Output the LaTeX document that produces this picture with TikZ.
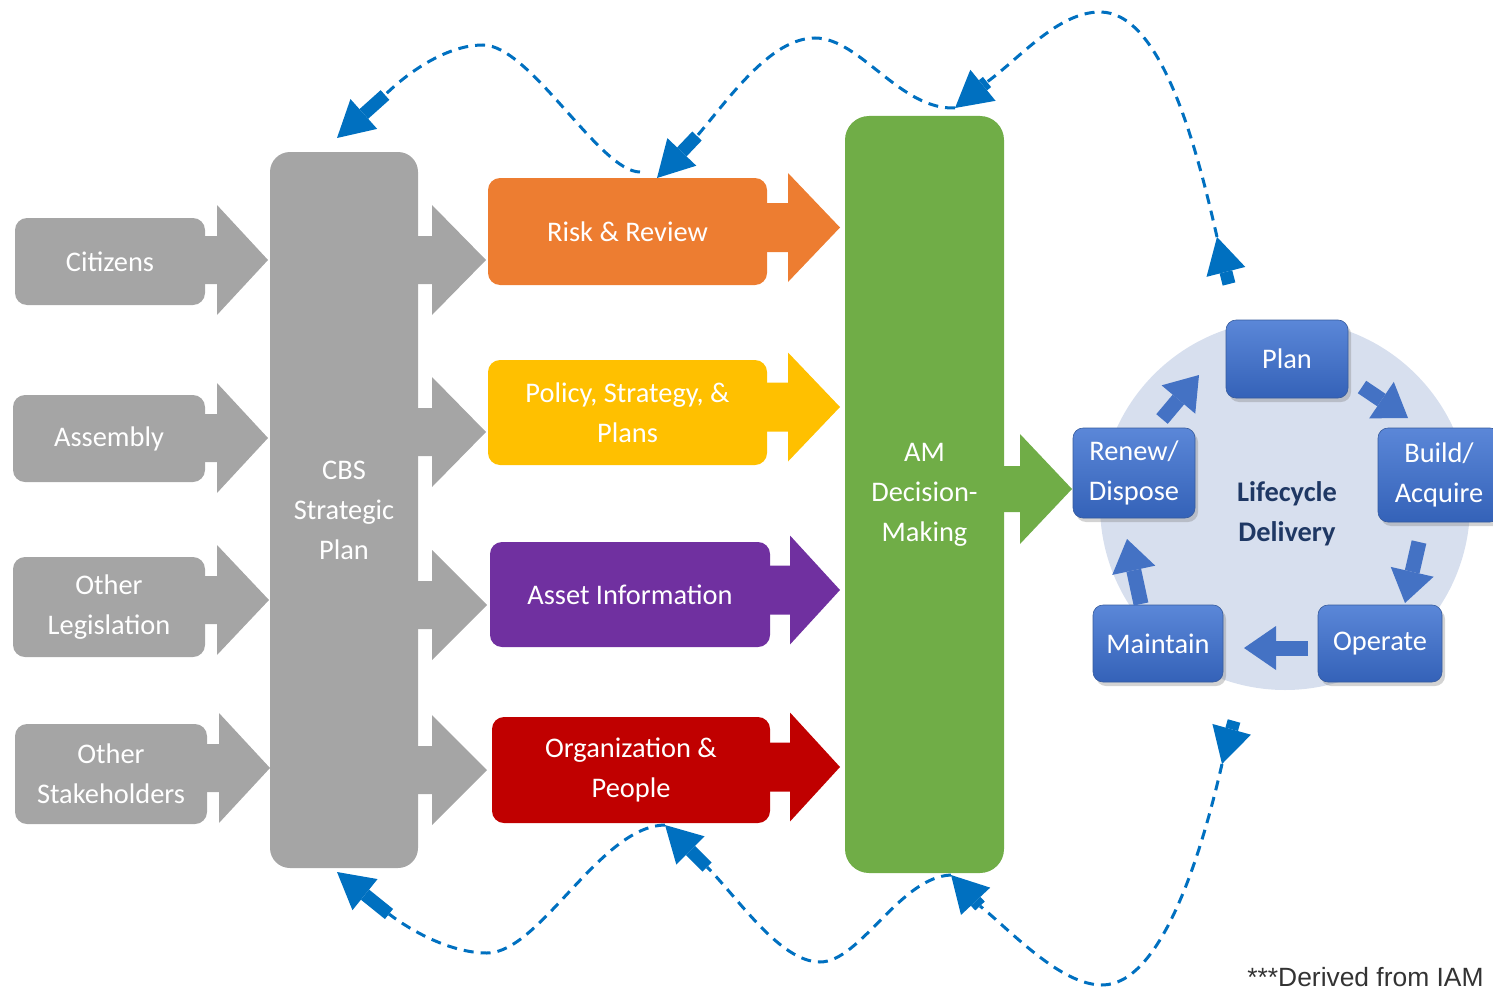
\documentclass[tikz,border=0pt]{standalone}
\usepackage{fontspec}
\setmainfont{Carlito}
\newfontfamily\arialfont{Liberation Sans}
\usetikzlibrary{arrows.meta,shadows}

\definecolor{cgray}{HTML}{A5A5A5}
\definecolor{corange}{HTML}{ED7D31}
\definecolor{cyellow}{HTML}{FFC000}
\definecolor{cpurple}{HTML}{7030A0}
\definecolor{cred}{HTML}{C00000}
\definecolor{cgreen}{HTML}{70AD47}
\definecolor{ccirc}{HTML}{D7DFEE}
\definecolor{cbluetop}{HTML}{5B87D8}
\definecolor{cbluebot}{HTML}{3462B8}
\definecolor{cblue}{HTML}{4472C4}
\definecolor{cdash}{HTML}{0070C0}
\definecolor{cnavy}{HTML}{1F3864}
\definecolor{cfoot}{HTML}{333333}

\newcommand{\myBlockArrow}[7]{%
  \fill[#1] (#2,{#5-#6}) -- (#3,{#5-#6}) -- (#3,{#5-#7}) -- (#4,#5)
    -- (#3,{#5+#7}) -- (#3,{#5+#6}) -- (#2,{#5+#6}) -- cycle;}

\tikzset{
  wh/.style 2 args={minimum width={#1*0.5pt}, minimum height={#2*0.5pt}},
  lbl/.style={text=white, font=\fontsize{14.2}{20}\selectfont, align=center, inner sep=0pt},
  grbox/.style={lbl, fill=cgray, rounded corners=6pt},
  cbox/.style={lbl, rounded corners=6pt},
  bbox/.style={lbl, rounded corners=5pt, top color=cbluetop, bottom color=cbluebot,
    draw=cblue!80!black, line width=0.3pt,
    drop shadow={opacity=0.35, shadow xshift=1.5pt, shadow yshift=-2pt}},
  dsh/.style={draw=cdash, line width=1.5pt, dash pattern=on 5pt off 3.5pt},
  bhead/.style={draw=cdash, line width=6.5pt, -{Triangle[length=18pt,width=20pt,line width=0pt]}},
  carr/.style={draw=cblue, line width=7.5pt, -{Triangle[length=16pt,width=22pt,line width=0pt]}},
}

\begin{document}
\begin{tikzpicture}[x=0.5pt,y=-0.5pt]
\useasboundingbox (0,0) rectangle (1493,990);

% lifecycle background circle
\node[circle, fill=ccirc, minimum size=185pt, inner sep=0pt] (cyc) at (1285,505) {};

% arrows attached to input boxes
\myBlockArrow{cgray}{195}{217}{268}{260}{24}{55}
\myBlockArrow{cgray}{195}{217}{268}{438}{24}{55}
\myBlockArrow{cgray}{195}{217}{269}{600}{24}{55}
\myBlockArrow{cgray}{195}{219}{270}{768}{24}{55}
% arrows out of the strategic plan
\myBlockArrow{cgray}{410}{432}{486}{260}{24}{55}
\myBlockArrow{cgray}{410}{432}{486}{432}{24}{55}
\myBlockArrow{cgray}{410}{432}{487}{605}{24}{55}
\myBlockArrow{cgray}{410}{432}{487}{770}{24}{55}
% arrows of the coloured boxes
\myBlockArrow{corange}{760}{788}{840}{227.5}{24.5}{54.5}
\myBlockArrow{cyellow}{760}{788}{840}{407}{24.5}{54.5}
\myBlockArrow{cpurple}{760}{790}{840}{590}{24.5}{54.5}
\myBlockArrow{cred}{760}{790}{840}{767}{24.5}{54.5}
% arrow of decision making
\myBlockArrow{cgreen}{1000}{1020}{1072}{489}{23}{55}

% input boxes
\node[grbox, wh={190}{87}] (cit) at (110,261.5) {Citizens};
\node[grbox, wh={192}{87}] (asm) at (109,438.5) {Assembly};
\node[grbox, wh={192}{100}] (oleg) at (109,607) {Other\\Legislation};
\node[grbox, wh={192}{100}] (ostk) at (111,774) {Other\\Stakeholders};

% strategic plan
\node[grbox, wh={148}{716}, rounded corners=10pt] (cbs) at (344,510) {CBS\\Strategic\\Plan};

% coloured boxes
\node[cbox, fill=corange, wh={279}{107}] (risk) at (627.5,231.5) {Risk \& Review};
\node[cbox, fill=cyellow, wh={279}{105}] (pol) at (627.5,412.5) {Policy, Strategy, \&\\Plans};
\node[cbox, fill=cpurple, wh={280}{105}] (asset) at (630,594.5) {Asset Information};
\node[cbox, fill=cred, wh={278}{106}] (org) at (631,770) {Organization \&\\People};

% decision making
\node[cbox, fill=cgreen, wh={159}{757}, rounded corners=12pt] (am) at (924.5,494.5) {AM\\Decision-\\Making};

% lifecycle boxes
\node[bbox, wh={122}{78}] (plan) at (1287,359) {Plan};
\node[bbox, wh={122}{94}] (build) at (1439,475) {Build/\\Acquire};
\node[bbox, wh={122}{90}] (renew) at (1134,473) {Renew/\\Dispose};
\node[bbox, wh={130}{77}] (maint) at (1158,643.5) {Maintain};
\node[bbox, wh={124}{77}] (oper) at (1380,643.5) {Operate};
\node[lbl, text=cnavy, font=\bfseries\fontsize{14.2}{20}\selectfont] (lcd) at (1287,514) {Lifecycle\\Delivery};

% lifecycle arrows
\coordinate (pb1) at (1362,387); \coordinate (pb2) at (1408,418);
\coordinate (bo1) at (1419,542); \coordinate (bo2) at (1405,603);
\coordinate (om1) at (1308,648); \coordinate (om2) at (1244,648);
\coordinate (mr1) at (1141,604); \coordinate (mr2) at (1127,539);
\coordinate (rp1) at (1162,419); \coordinate (rp2) at (1199,375);
\draw[carr] (pb1) -- (pb2);
\draw[carr] (bo1) -- (bo2);
\draw[carr] (om1) -- (om2);
\draw[carr] (mr1) -- (mr2);
\draw[carr] (rp1) -- (rp2);

% feedback loops: end points
\coordinate (lcT) at (1217,237);   \coordinate (lcTs) at (1229,284);
\coordinate (amT) at (955,108);    \coordinate (amTs) at (987,82);
\coordinate (rkT) at (657,178);    \coordinate (rkTs) at (697,136);
\coordinate (cbT) at (337,138);    \coordinate (cbTs) at (385,95);
\coordinate (lcB) at (1222,764);   \coordinate (lcBs) at (1234,721);
\coordinate (amB) at (951,875);    \coordinate (amBs) at (980,906);
\coordinate (orB) at (665,825);    \coordinate (orBs) at (707,867);
\coordinate (cbB) at (337,872);    \coordinate (cbBs) at (389,914);
% peaks and valleys
\coordinate (pk1) at (483,45);
\coordinate (pk2) at (815,38);
\coordinate (pk3) at (1100,12);
\coordinate (vl1) at (487,953);
\coordinate (vl2) at (820,962);
\coordinate (vl3) at (1102,985);

% top loops
\draw[dsh] (lcT) .. controls (1195,140) and (1160,12) .. (pk3)
  .. controls (1058,12) and (1020,58) .. (amTs);
\draw[dsh] (amT) .. controls (900,110) and (860,38) .. (pk2)
  .. controls (770,38) and (728,100) .. (rkTs);
\draw[dsh] (640,172) .. controls (600,172) and (530,45) .. (pk1)
  .. controls (445,45) and (405,75) .. (cbTs);
% bottom loops
\draw[dsh] (lcB) .. controls (1200,860) and (1160,985) .. (vl3)
  .. controls (1060,985) and (1010,930) .. (amBs);
\draw[dsh] (amB) .. controls (900,877) and (860,962) .. (vl2)
  .. controls (780,962) and (738,898) .. (orBs);
\draw[dsh] (orB) .. controls (600,826) and (540,953) .. (vl1)
  .. controls (450,953) and (410,930) .. (cbBs);

% arrow heads of the loops
\draw[bhead] (lcTs) -- (lcT);
\draw[bhead] (amTs) -- (amT);
\draw[bhead] (rkTs) -- (rkT);
\draw[bhead] (cbTs) -- (cbT);
\draw[bhead] (lcBs) -- (lcB);
\draw[bhead] (amBs) -- (amB);
\draw[bhead] (orBs) -- (orB);
\draw[bhead] (cbBs) -- (cbB);

% footer
\node[anchor=base west, inner sep=0pt, text=cfoot, font=\arialfont\fontsize{13.2}{15}\selectfont] (foot) at (1247,986) {***Derived from IAM};
\end{tikzpicture}
\end{document}
